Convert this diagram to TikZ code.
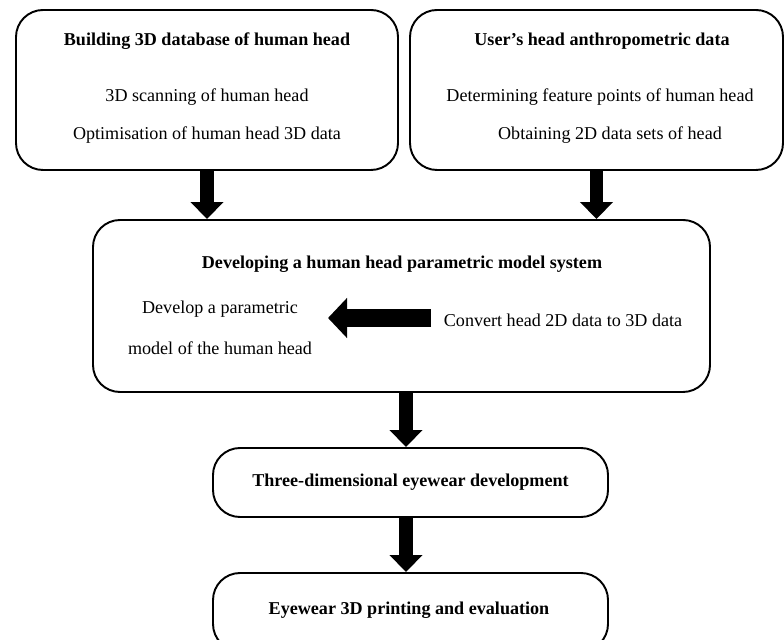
\documentclass[tikz,border=0pt]{standalone}
\usepackage{fontspec}
\setmainfont{Liberation Serif}
\usetikzlibrary{arrows.meta,positioning,calc}
\tikzset{
    stage/.style={
        rectangle,
        rounded corners=0.54cm,
        line width=1.1pt,
        draw=black,
        fill=white,
        inner sep=0pt,
    },
    txt/.style={
        inner sep=0pt,
        font=\fontsize{10.3}{12}\selectfont,
    },
    headtxt/.style={
        txt,
        font=\fontsize{10.3}{12}\selectfont\bfseries,
    },
    blockarrow/.style={
        line width=0.27cm,
        -{Triangle[width=0.64cm,length=0.34cm]},
    },
}
\begin{document}
\begin{tikzpicture}
    \useasboundingbox (0,0) rectangle (15.68,-12.8);
    \node [stage, minimum width=7.64cm, minimum height=3.2cm] (db) at (4.14,-1.8) {};
    \node [stage, minimum width=7.46cm, minimum height=3.2cm] (anthro) at (11.93,-1.8) {};
    \node [stage, minimum width=12.34cm, minimum height=3.44cm] (model) at (8.03,-6.12) {};
    \node [stage, minimum width=7.9cm, minimum height=1.38cm] (glasses) at (8.21,-9.65) {};
    \node [stage, minimum width=7.9cm, minimum height=1.56cm] (printing) at (8.21,-12.24) {};

    \node [headtxt] (db-title) at (4.14,-0.82) {Building 3D database of human head};
    \node [txt] (db-scan) at (4.14,-1.94) {3D scanning of human head};
    \node [txt] (db-opt) at (4.14,-2.7) {Optimisation of human head 3D data};

    \node [headtxt] (anthro-title) at (12.04,-0.82) {User’s head anthropometric data};
    \node [txt] (anthro-pts) at (12.0,-1.94) {Determining feature points of human head};
    \node [txt] (anthro-sets) at (12.2,-2.7) {Obtaining 2D data sets of head};

    \node [headtxt] (model-title) at (8.04,-5.28) {Developing a human head parametric model system};
    \node [txt, align=center, font=\fontsize{10.3}{23.3}\selectfont] (model-dev) at (4.4,-6.55) {Develop a parametric\\model of the human head};
    \node [txt] (model-conv) at (11.26,-6.4) {Convert head 2D data to 3D data};

    \node [headtxt] (glasses-title) at (glasses.center) {Three-dimensional eyewear development};
    \node [headtxt] (printing-title) at (8.18,-12.2) {Eyewear 3D printing and evaluation};

    \coordinate (conv-start) at (8.62,-6.36);
    \coordinate (conv-end) at (6.56,-6.36);

    \draw [blockarrow] (db.south) -- (db.south |- model.north);
    \draw [blockarrow] (anthro.south) -- (anthro.south |- model.north);
    \draw [blockarrow, line width=0.36cm, -{Triangle[width=0.78cm,length=0.38cm]}] (conv-start) -- (conv-end);
    \draw [blockarrow] ([xshift=-0.09cm]glasses.north |- model.south) -- ([xshift=-0.09cm]glasses.north);
    \draw [blockarrow] ([xshift=-0.09cm]printing.north |- glasses.south) -- ([xshift=-0.09cm]printing.north);
\end{tikzpicture}
\end{document}
